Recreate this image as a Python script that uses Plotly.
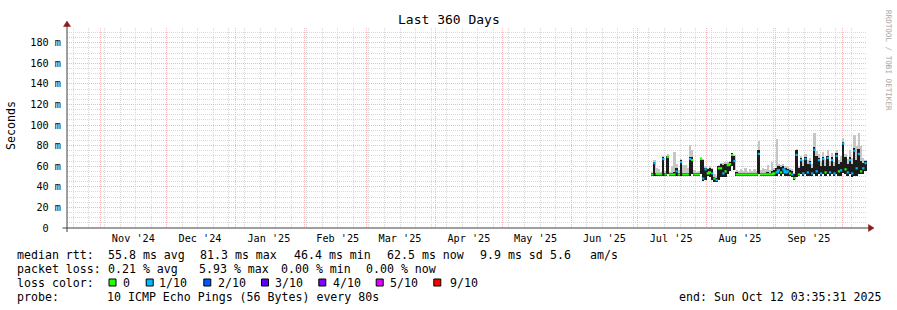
import plotly.graph_objects as go
from datetime import datetime, timedelta

# ---------------- data (milliseconds, one step per day) ----------------
first_step = "2025-07-07 12:00:00"
median_ms = [52, 63, 52.5, 52, 52, 67, 52, 69, 52, 52.5,
             52, 55, 52, 64, 52, 52, 52, 67, 66, 52,
             52, 52, 67, 48, 57, 53, 54, 53, 48, 46.5,
             58, 58, 53, 55, 61, 62, 71, 65, 52, 52,
             52.5, 52, 52, 52, 52.5, 52, 52, 52, 72, 52,
             52, 52.5, 52, 52, 52, 53, 54, 56, 54, 57,
             54, 55, 53, 52, 48.5, 71, 52, 66, 53, 67,
             54, 63, 53, 76, 55, 66, 53, 67, 54, 68,
             54, 66, 53, 70, 55, 56, 82, 57, 54, 66,
             53, 75, 58, 72, 55, 58, 63]
smoke_lo_ms = [51, 51, 51, 51, 51, 51, 51, 52, 51, 51,
               51, 51, 51, 51, 51, 51, 51, 51, 52, 51,
               51, 51, 52, 46, 47, 51, 50, 47, 45, 45,
               47, 50, 50, 50, 52, 55, 60, 56, 51, 51,
               51, 51, 51, 51, 51, 51, 51, 51, 52, 51,
               51, 51, 51, 51, 51, 51, 51, 52, 51, 52,
               51, 51, 51, 50, 47, 50, 51, 52, 51, 52,
               51, 51, 51, 52, 51, 52, 51, 52, 51, 52,
               51, 52, 51, 52, 51, 51, 53, 52, 51, 52,
               50, 51, 51, 52, 52, 52, 55]
smoke_hi_ms = [53, 64.5, 53.5, 53, 53, 69, 53, 70, 53, 53.5,
               54, 58.5, 53, 66, 53.5, 53.5, 53, 69, 69, 53,
               53, 53, 68, 66, 58.5, 57, 58, 57, 50, 49,
               60, 62, 61, 62, 62.5, 64, 72.6, 70, 54, 53,
               53.5, 53, 53.5, 53, 53.5, 53, 53, 53, 76, 53,
               53.5, 53.5, 54, 53, 55, 56, 58, 60, 59, 60,
               58, 57, 56, 55, 52, 76, 58, 68, 60, 69,
               62, 65, 58, 79, 70, 68, 60, 69, 60, 70,
               60, 69, 60, 72.6, 62, 64, 84, 69, 62, 69,
               62, 78, 66, 77, 65, 63, 65]
smoke_max_ms = [54, 66, 58, 57, 54, 70, 55, 72, 54, 60,
                74, 62, 56, 67, 61, 61, 58, 81, 76, 56,
                54, 55, 69, 67, 60, 58, 60, 58, 52, 51,
                61, 63, 63, 64, 64, 65, 73, 71, 56, 55,
                57, 55, 58, 54, 57, 55, 57, 55, 85, 56,
                58, 57, 61, 56, 64, 58, 86, 62, 61, 62,
                60, 59, 58, 57, 53, 77, 60, 70, 66, 72,
                66, 68, 62, 92, 75, 72, 65, 74, 66, 76,
                65, 73, 64, 76, 66, 70, 87, 72, 67, 76,
                68, 90, 80, 92, 80, 68, 66]
loss_count = [0, 1, 0, 0, 0, 1, 0, 0, 0, 0,
              0, 1, 0, 1, 0, 0, 0, 1, 0, 0,
              0, 0, 0, 1, 1, 0, 0, 1, 0, 1,
              0, 0, 1, 0, 0, 0, 0, 1, 0, 0,
              0, 0, 0, 0, 0, 0, 0, 0, 1, 0,
              0, 0, 0, 0, 0, 0, 1, 1, 0, 1,
              1, 1, 0, 1, 0, 1, 0, 1, 1, 1,
              1, 1, 1, 1, 1, 1, 1, 1, 0, 1,
              1, 1, 1, 1, 0, 1, 1, 0, 1, 1,
              1, 1, 1, 1, 0, 1, 1]

loss_labels = ["0", "1/10", "2/10", "3/10", "4/10", "5/10", "9/10"]
loss_keys = [0, 1, 2, 3, 4, 5, 9]
loss_colors = ["#26ff00", "#00b8ff", "#0059ff", "#5e00ff", "#7e00ff", "#dd00ff", "#ff0000"]

month_starts = ["2024-11-01", "2024-12-01", "2025-01-01", "2025-02-01", "2025-03-01",
                "2025-04-01", "2025-05-01", "2025-06-01", "2025-07-01", "2025-08-01",
                "2025-09-01", "2025-10-01"]
month_labels = ["Nov '24", "Dec '24", "Jan '25", "Feb '25", "Mar '25", "Apr '25",
                "May '25", "Jun '25", "Jul '25", "Aug '25", "Sep '25"]
y_ticks = [0, 20, 40, 60, 80, 100, 120, 140, 160, 180]

range_start = "2024-10-17 03:35:31"
range_end = "2025-10-12 03:35:31"

legend_rows = [
    [("median rtt:", 16), ("55.8 ms avg", 106.6), ("81.3 ms max", 199.3), ("46.4 ms min", 292.8),
     ("62.5 ms now", 386.0), ("9.9 ms sd", 478.6), ("5.6", 548.6), ("am/s", 589.3)],
    [("packet loss:", 16), ("0.21 % avg", 106.6), ("5.93 % max", 198.3), ("0.00 % min", 279.6),
     ("0.00 % now", 365.0)],
    [("probe:", 16), ("10 ICMP Echo Pings (56 Bytes) every 80s", 106.4),
     ("end: Sun Oct 12 03:35:31 2025", 677.7)],
]

# ---------------- geometry helpers ----------------
W, H = 897, 310
L, R, T, B = 67, 30, 28, 82
PW, PH = W - L - R, H - T - B


def px(x):
    return (x - L) / PW


def py(y):
    return (T + PH - y) / PH


MONO = "DejaVu Sans Mono"
t0 = datetime.strptime(first_step, "%Y-%m-%d %H:%M:%S")
dates = [t0 + timedelta(days=i) for i in range(len(median_ms))]
DAY_MS = 86400000

fig = go.Figure()

# smoke: light outer band and dark inner band
fig.add_trace(go.Bar(x=dates, y=[m - l for m, l in zip(smoke_max_ms, smoke_lo_ms)], base=smoke_lo_ms,
                     width=DAY_MS, marker=dict(color="#c6c6c6", line=dict(width=0)),
                     hoverinfo="skip", showlegend=False))
fig.add_trace(go.Bar(x=dates, y=[h - l for h, l in zip(smoke_hi_ms, smoke_lo_ms)], base=smoke_lo_ms,
                     width=DAY_MS * 0.85, marker=dict(color="#1c1c1c", line=dict(width=0)),
                     hoverinfo="skip", showlegend=False))

# median line coloured by loss class (steps joined only when levels are close)
half = timedelta(hours=12)
for key, col in zip(loss_keys, loss_colors):
    xs, ys = [], []
    prev_m = None
    for d, m, lc in zip(dates, median_ms, loss_count):
        if lc == key:
            if prev_m is not None and abs(m - prev_m) > 3:
                xs.append(None)
                ys.append(None)
            xs += [d - half, d + half]
            ys += [m, m]
            prev_m = m
        else:
            if prev_m is not None:
                xs.append(None)
                ys.append(None)
            prev_m = None
    if xs:
        fig.add_trace(go.Scatter(x=xs, y=ys, mode="lines", line=dict(color=col, width=2.2),
                                 hoverinfo="skip", showlegend=False))

# invisible trace to carry the month-label axis
fig.add_trace(go.Scatter(x=dates, y=median_ms, xaxis="x2", mode="none",
                         hoverinfo="skip", showlegend=False))

label_pos = [(datetime.strptime(s, "%Y-%m-%d") + timedelta(days=15)) for s in month_starts[:len(month_labels)]]

GRID = "#d8d8d8"
MGRID = "#f5b8b8"
fig.update_layout(
    width=W, height=H,
    margin=dict(l=L, r=R, t=T, b=B, pad=0),
    paper_bgcolor="white", plot_bgcolor="white",
    barmode="overlay", bargap=0,
    showlegend=False,
    font=dict(family=MONO, color="black"),
    xaxis=dict(type="date", range=[range_start, range_end],
               tickmode="array", tickvals=month_starts, showticklabels=False, ticks="",
               showgrid=True, gridcolor=MGRID, gridwidth=1, griddash="1px,1px",
               minor=dict(tick0="2024-10-20", dtick=7 * DAY_MS, showgrid=True,
                          gridcolor=GRID, gridwidth=1, griddash="1px,1px", ticks=""),
               showline=False, zeroline=False, fixedrange=True),
    xaxis2=dict(type="date", overlaying="x", matches="x", anchor="y", side="bottom",
                tickmode="array", tickvals=label_pos, ticktext=month_labels, ticks="",
                showgrid=False, showline=False, zeroline=False,
                tickfont=dict(family=MONO, size=10.2, color="black"), ticklabelstandoff=3),
    yaxis=dict(range=[0, 194.3], tickmode="array", tickvals=y_ticks,
               ticktext=["0\u00a0\u00a0"] + [f"{v}\u00a0m" for v in y_ticks[1:]],
               ticks="", tickfont=dict(family=MONO, size=10.2, color="black"), ticklabelstandoff=5,
               showgrid=True, gridcolor=MGRID, gridwidth=1, griddash="1px,1px",
               minor=dict(dtick=5, showgrid=True, gridcolor=GRID, gridwidth=1,
                          griddash="1px,1px", ticks=""),
               showline=False, zeroline=False, fixedrange=True),
)

shapes = []
AX = "#404040"
ARROW = "#8b1a1a"
shapes.append(dict(type="line", xref="paper", yref="paper", x0=0, x1=0, y0=py(232), y1=py(26),
                   line=dict(color=AX, width=1)))
shapes.append(dict(type="line", xref="paper", yref="paper", x0=px(62.5), x1=px(869), y0=0, y1=0,
                   line=dict(color=AX, width=1)))
shapes.append(dict(type="path", xref="paper", yref="paper", xsizemode="pixel", ysizemode="pixel",
                   xanchor=0, yanchor=1, path="M -3.5,1.5 L 3.5,1.5 L 0,7 Z",
                   fillcolor=ARROW, line=dict(color=ARROW, width=0.5)))
shapes.append(dict(type="path", xref="paper", yref="paper", xsizemode="pixel", ysizemode="pixel",
                   xanchor=1, yanchor=0, path="M 1.5,-3.5 L 1.5,3.5 L 7,0 Z",
                   fillcolor=ARROW, line=dict(color=ARROW, width=0.5)))

annotations = []
annotations.append(dict(text="Last 360 Days", xref="paper", yref="paper", x=px(448.5), y=py(19),
                        xanchor="center", yanchor="middle", showarrow=False,
                        font=dict(family=MONO, size=13, color="black")))
annotations.append(dict(text="Seconds", xref="paper", yref="paper", x=px(11), y=py(125),
                        xanchor="center", yanchor="middle", textangle=-90, showarrow=False,
                        font=dict(family=MONO, size=11.6, color="black")))
annotations.append(dict(text="RRDTOOL / TOBI OETIKER", xref="paper", yref="paper", x=px(889), y=py(60),
                        xanchor="center", yanchor="middle", textangle=90, showarrow=False,
                        font=dict(family=MONO, size=7.6, color="#a8a8a8")))

row_y = [255, 268.5, 296.5]
for row, yc in zip(legend_rows, row_y):
    for txt, x in row:
        annotations.append(dict(text=txt.replace(" ", "\u00a0"), xref="paper", yref="paper",
                                x=px(x), y=py(yc), xanchor="left", yanchor="middle",
                                showarrow=False, borderpad=0,
                                font=dict(family=MONO, size=11.6, color="black")))

# loss colour row
color_y = 282.5
annotations.append(dict(text="loss\u00a0color:", xref="paper", yref="paper", x=px(16), y=py(color_y),
                        xanchor="left", yanchor="middle", showarrow=False, borderpad=0,
                        font=dict(family=MONO, size=11.6, color="black")))
sq_x = [108.5, 145.7, 203.3, 261.0, 318.3, 375.7, 433.3]
lab_x = [122.0, 158.1, 216.6, 274.3, 332.0, 389.3, 449.3]
for lab, col, sx, lx in zip(loss_labels, loss_colors, sq_x, lab_x):
    shapes.append(dict(type="rect", xref="paper", yref="paper", xsizemode="pixel", ysizemode="pixel",
                       xanchor=px(sx), yanchor=py(color_y), x0=0.5, x1=7.5, y0=-3.5, y1=3.5,
                       fillcolor=col, line=dict(color="black", width=1)))
    annotations.append(dict(text=lab, xref="paper", yref="paper", x=px(lx), y=py(color_y),
                            xanchor="left", yanchor="middle", showarrow=False, borderpad=0,
                            font=dict(family=MONO, size=11.6, color="black")))

fig.update_layout(shapes=shapes, annotations=annotations)
fig.write_html("out.html")
